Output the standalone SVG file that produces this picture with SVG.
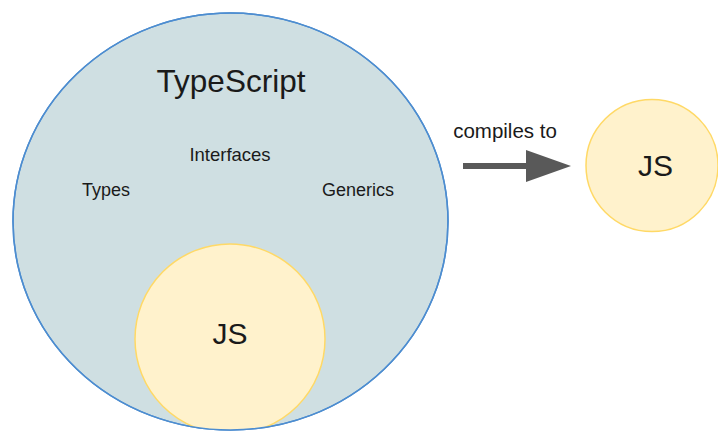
<svg xmlns="http://www.w3.org/2000/svg" width="718" height="432" viewBox="0 0 718 432">
<style>
text{font-family:"Liberation Sans",Arial,sans-serif;fill:#1a1a1a;text-anchor:middle}
.ts{fill:#cfdfe2;stroke:#4d8dd0;stroke-width:1.5}
.js{fill:#fff2cc;stroke:#ffd966;stroke-width:1.5}
</style>
<defs>
<clipPath id="tsClip"><ellipse cx="230.5" cy="221.5" rx="217.5" ry="208.5"/></clipPath>
</defs>
<rect width="718" height="432" fill="#ffffff"/>
<g id="typescript">
<ellipse class="ts" cx="230.5" cy="221.5" rx="217.5" ry="208.5"/>
<text x="231" y="92" font-size="31.5">TypeScript</text>
<text x="230" y="160.5" font-size="18.5">Interfaces</text>
<text x="106" y="195.5" font-size="18">Types</text>
<text x="358" y="195.5" font-size="18">Generics</text>
</g>
<g id="js-inner">
<circle class="js" cx="230" cy="339" r="95" clip-path="url(#tsClip)"/>
<ellipse cx="230.5" cy="221.5" rx="217.5" ry="208.5" fill="none" stroke="#4d8dd0" stroke-width="1.5"/>
<text x="230" y="344" font-size="30">JS</text>
</g>
<g id="connectors">
<path d="M463 166 H527" stroke="#595959" stroke-width="6" fill="none"/>
<polygon points="526,150 571,166 526,182" fill="#595959"/>
<text x="505" y="137.5" font-size="20.5">compiles to</text>
</g>
<g id="js-output">
<circle class="js" cx="652" cy="165.5" r="66"/>
<text x="655.5" y="175.5" font-size="30">JS</text>
</g>
</svg>
